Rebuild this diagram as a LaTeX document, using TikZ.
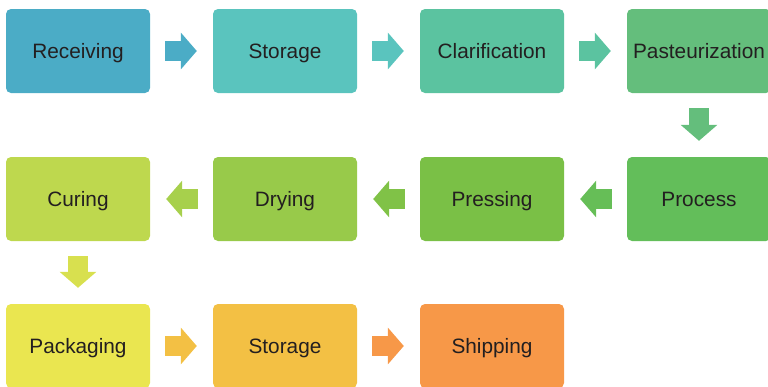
\documentclass[tikz,border=0pt]{standalone}
\usepackage{fontspec}
\setmainfont{Liberation Sans}
\usepackage{tikz}
\usetikzlibrary{arrows.meta,positioning,calc}
\definecolor{cReceive}{HTML}{4BACC6}
\definecolor{cStore}{HTML}{5AC4BE}
\definecolor{cClarif}{HTML}{5BC3A0}
\definecolor{cPasteur}{HTML}{64BE7C}
\definecolor{cProcess}{HTML}{63BE5A}
\definecolor{cPress}{HTML}{7AC046}
\definecolor{cDry}{HTML}{98CA4A}
\definecolor{cCure}{HTML}{BED84E}
\definecolor{cPack}{HTML}{EAE650}
\definecolor{cStoreB}{HTML}{F3C044}
\definecolor{cShip}{HTML}{F79848}
\definecolor{cText}{HTML}{231F20}
\tikzset{
  % boxes
  step box/.style={rectangle,rounded corners=5pt,minimum width=144pt,
             minimum height=84pt,inner sep=0pt,text=cText,
             text height=19pt,text depth=4.4pt,
             font=\fontsize{20.8}{24}\selectfont},
  % block arrows
  blk/.style={draw=#1,line width=20pt,shorten <=15pt,shorten >=16pt,
             -{Triangle[length=16pt,width=36pt]}},
}

\begin{document}
\begin{tikzpicture}[x=1pt,y=-1pt]
\useasboundingbox (0,0) rectangle (768,386);
\clip (0,0) rectangle (768,386);
  % row 1
  \node[step box,fill=cReceive] (recv) at (78,51) {Receiving};
  \node[step box,fill=cStore] (stor) at (285,51) {Storage};
  \node[step box,fill=cClarif] (clar) at (492,51) {Clarification};
  \node[step box,fill=cPasteur] (past) at (699,51) {Pasteurization};
  % row 2
  \node[step box,fill=cProcess] (proc) at (699,199) {Process};
  \node[step box,fill=cPress] (pres) at (492,199) {Pressing};
  \node[step box,fill=cDry] (dry) at (285,199) {Drying};
  \node[step box,fill=cCure] (cure) at (78,199) {Curing};
  % row 3
  \node[step box,fill=cPack] (pack) at (78,346) {Packaging};
  \node[step box,fill=cStoreB] (storb) at (285,346) {Storage};
  \node[step box,fill=cShip] (ship) at (492,346) {Shipping};
  % arrows
  \draw[blk=cReceive] (recv) -- (stor);
  \draw[blk=cStore] (stor) -- (clar);
  \draw[blk=cClarif] (clar) -- (past);
  \draw[blk=cPasteur] (past) -- (proc);
  \draw[blk=cProcess!85!cPress] (proc) -- (pres);
  \draw[blk=cPress!80!cDry] (pres) -- (dry);
  \draw[blk=cDry!60!cCure] (dry) -- (cure);
  \draw[blk=cCure!40!cPack] (cure) -- (pack);
  \draw[blk=cStoreB] (pack) -- (storb);
  \draw[blk=cShip] (storb) -- (ship);
\end{tikzpicture}
\end{document}
